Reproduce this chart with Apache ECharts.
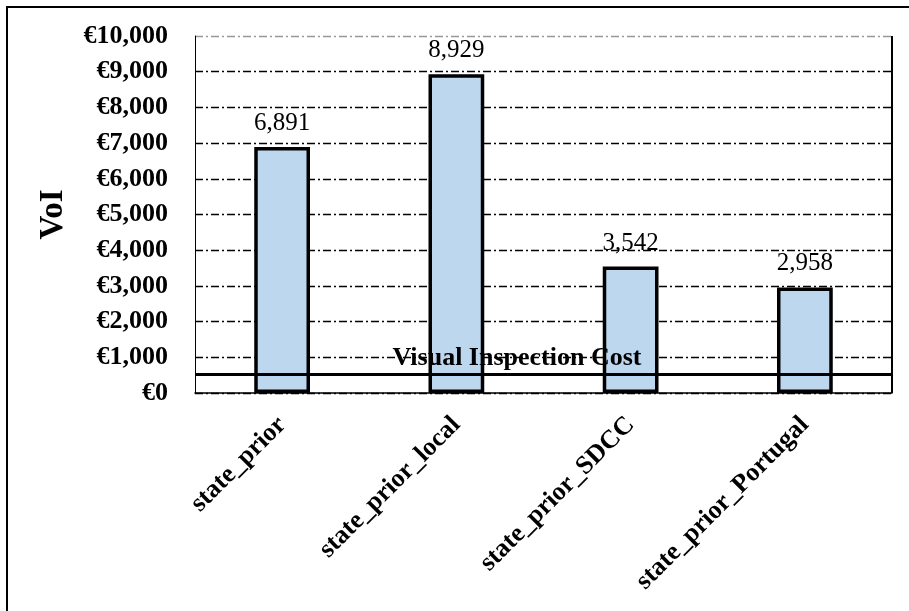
<!DOCTYPE html>
<html>
<head>
<meta charset="utf-8">
<script src="https://cdn.jsdelivr.net/npm/echarts@6/dist/echarts.min.js"></script>
<style>
  html, body { margin: 0; padding: 0; background: #fff; }
  #chart { width: 909px; height: 611px; }
</style>
</head>
<body>
<div id="chart"></div>
<script>
const categories = ["state_prior", "state_prior_local", "state_prior_SDCC", "state_prior_Portugal"];
const voiValues = [6891, 8929, 3542, 2958];
const inspectionCost = 515;
const inspectionLabel = "Visual Inspection Cost";

const serif = "'Liberation Serif', 'Times New Roman', serif";

const chart = echarts.init(document.getElementById("chart"));

// grid line colours, the top one at 10,000 is grey
const splitColors = ["#000", "#000", "#000", "#000", "#000", "#000", "#000", "#000", "#000", "#000", "#999"];

const option = {
  backgroundColor: "#fff",
  animation: false,
  grid: { left: 195, right: 17, top: 36, bottom: 218 },
  xAxis: {
    type: "category",
    data: categories,
    axisTick: { show: false },
    axisLine: { lineStyle: { color: "#000", width: 1.5 } },
    axisLabel: {
      rotate: 45,
      interval: 0,
      margin: 28,
      color: "#000",
      fontFamily: serif,
      fontWeight: "bold",
      fontSize: 26,
    },
  },
  yAxis: {
    type: "value",
    min: 0,
    max: 10000,
    interval: 1000,
    name: "VoI",
    nameLocation: "middle",
    nameGap: 125,
    nameTextStyle: { color: "#000", fontFamily: serif, fontWeight: "bold", fontSize: 33 },
    axisLine: { show: true, lineStyle: { color: "#000", width: 1 } },
    axisTick: { show: false },
    axisLabel: {
      margin: 27,
      color: "#000",
      fontFamily: serif,
      fontWeight: "bold",
      fontSize: 26,
      formatter: (v) => "€" + v.toLocaleString("en-US"),
    },
    splitLine: {
      show: true,
      lineStyle: { color: splitColors, type: [8, 3, 2, 3], width: 1.3 },
    },
  },
  series: [
    {
      type: "bar",
      data: voiValues,
      barWidth: "32%",
      itemStyle: { color: "#BDD7EE", borderColor: "#000", borderWidth: 3.5 },
      label: {
        show: true,
        position: "top",
        distance: 11,
        color: "#000",
        fontFamily: serif,
        fontSize: 25,
        formatter: (p) => p.value.toLocaleString("en-US"),
      },
      markLine: {
        silent: true,
        symbol: "none",
        lineStyle: { color: "#000", width: 3, type: "solid" },
        label: {
          show: true,
          position: "insideMiddleTop",
          formatter: inspectionLabel,
          color: "#000",
          fontFamily: serif,
          fontWeight: "bold",
          fontSize: 26,
          distance: 3,
          padding: [0, 53, 0, 0],
        },
        data: [{ yAxis: inspectionCost }],
      },
    },
  ],
};

chart.setOption(option);

// outer frame plus the solid right edge of the plot
const rect = chart.getModel().getComponent("grid").coordinateSystem.getRect();
chart.setOption({
  graphic: [
    {
      type: "rect",
      shape: { x: 7, y: 7, width: 1000, height: 800 },
      style: { fill: "none", stroke: "#000", lineWidth: 2 },
      silent: true,
    },
    {
      type: "line",
      shape: { x1: rect.x + rect.width, y1: rect.y, x2: rect.x + rect.width, y2: rect.y + rect.height },
      style: { stroke: "#000", lineWidth: 2 },
      silent: true,
    },
  ],
});

window.addEventListener("resize", () => chart.resize());
</script>
</body>
</html>
